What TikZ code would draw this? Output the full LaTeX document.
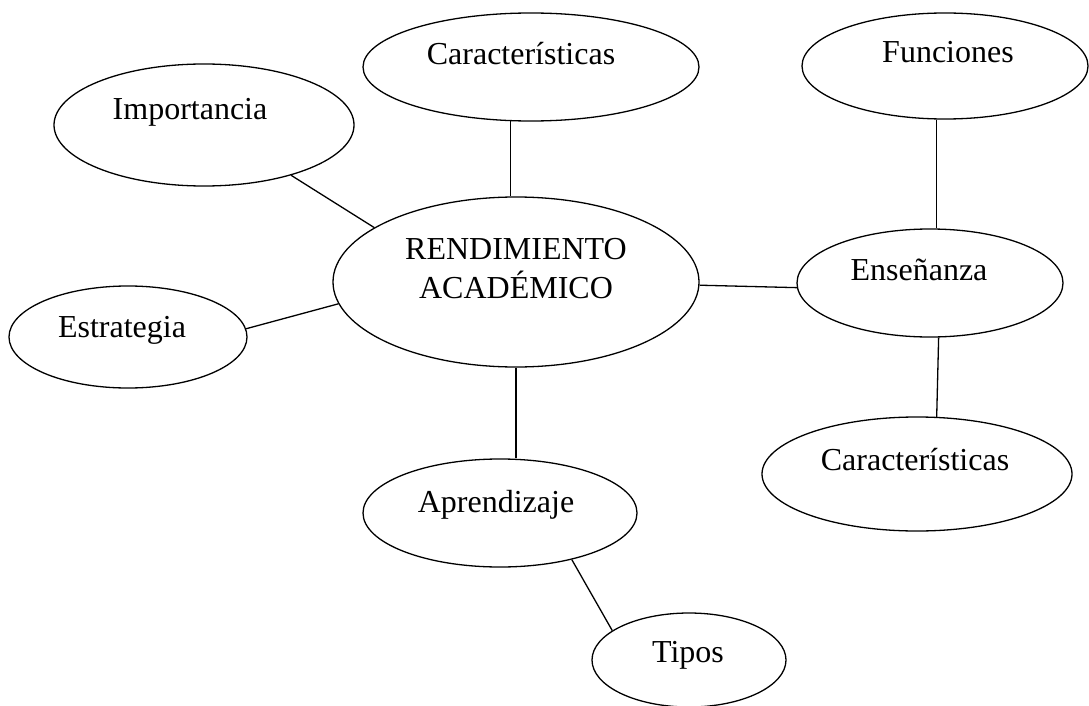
\documentclass[tikz,border=0pt]{standalone}
\usepackage{fontspec}
\setmainfont{Liberation Serif}
\usetikzlibrary{shapes.geometric}
\tikzset{
  bubble/.style={draw, ellipse, line width=1.3pt, inner sep=0pt},
  lbl/.style={anchor=base, inner sep=0pt, font=\fontsize{32}{39}\selectfont},
  link/.style={line width=1.3pt}
}
\begin{document}
\begin{tikzpicture}[x=1pt, y=-1pt]
\clip (0,0) rectangle (1089,706);
\fill[white] (0,0) rectangle (1089,706);
% ellipses
\node[bubble, minimum width=336pt, minimum height=108pt] (carT) at (531,67) {};
\node[bubble, minimum width=300pt, minimum height=122pt] (imp) at (204,125) {};
\node[bubble, minimum width=286pt, minimum height=106pt] (fun) at (945,66) {};
\node[bubble, minimum width=366pt, minimum height=170pt] (rend) at (516,282) {};
\node[bubble, minimum width=266pt, minimum height=108pt] (ens) at (930,283) {};
\node[bubble, minimum width=238pt, minimum height=102pt] (est) at (128,337) {};
\node[bubble, minimum width=310pt, minimum height=114pt] (carR) at (917,474) {};
\node[bubble, minimum width=274pt, minimum height=108pt] (apr) at (500,513) {};
\node[bubble, minimum width=194pt, minimum height=94pt] (tip) at (689,660) {};
% labels
\node[lbl] (tcarT) at (521,65) {Características};
\node[lbl] (timp) at (190,120) {Importancia};
\node[lbl] (tfun) at (948,63) {Funciones};
\node[lbl] (trend1) at (516,259) {RENDIMIENTO};
\node[lbl] (trend2) at (516,298) {ACADÉMICO};
\node[lbl] (tens) at (919,280) {Enseñanza};
\node[lbl] (test) at (122,337) {Estrategia};
\node[lbl] (tcarR) at (915,470) {Características};
\node[lbl] (tapr) at (496,512) {Aprendizaje};
\node[lbl] (ttip) at (688,662) {Tipos};
% connectors
\draw[link] (carT.-111) -- (carT.-111 |- rend.north);
\draw[link] (imp.-30.7) -- (rend.159.4);
\draw[link] (est.4.3) -- (rend.-173.5);
\draw[link] (rend.-1.3) -- (ens.-178.7);
\draw[link] (fun.-99.5) -- (fun.-99.5 |- ens.north);
\draw[link] (ens.-81.7) -- (carR.71.6);
\draw[link] (rend.south) -- (rend.south |- apr.north);
\draw[link] (apr.-33.7) -- (tip.159.8);
\end{tikzpicture}
\end{document}
